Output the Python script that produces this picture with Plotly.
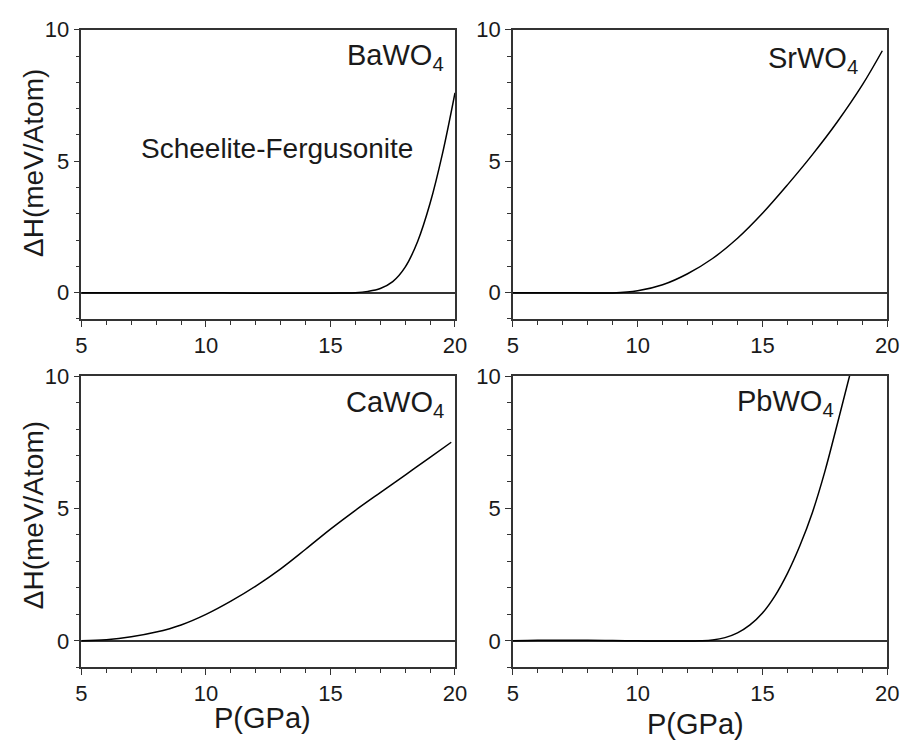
import plotly.graph_objects as go

# ---- data ----
ba_p = [5, 6, 7, 8, 9, 10, 11, 12, 13, 14, 15, 15.5, 16, 16.5, 17, 17.5, 18, 18.5, 19, 19.5, 20]
ba_h = [0, 0, 0, 0, 0, 0, -0.01, -0.02, -0.02, -0.02, -0.02, -0.01, 0.0, 0.05, 0.16, 0.42, 0.97, 1.95, 3.4, 5.3, 7.6]

sr_p = [5, 6, 7, 8, 9, 10, 11, 12, 13, 14, 15, 16, 17, 18, 19, 19.8]
sr_h = [0, 0, 0, -0.01, -0.01, 0.07, 0.3, 0.72, 1.3, 2.07, 3.02, 4.1, 5.25, 6.5, 7.9, 9.2]

ca_p = [5, 6, 7, 8, 9, 10, 11, 12, 13, 14, 15, 16, 17, 18, 19, 19.85]
ca_h = [0, 0.04, 0.15, 0.33, 0.6, 1.0, 1.5, 2.07, 2.72, 3.46, 4.22, 4.93, 5.6, 6.26, 6.93, 7.5]

pb_p = [5, 6, 7, 8, 9, 10, 11, 12, 12.5, 13, 13.5, 14, 14.5, 15, 15.5, 16, 16.5, 17, 17.5, 18, 18.5]
pb_h = [0, 0.02, 0.02, 0.02, 0.01, 0, -0.01, -0.01, 0, 0.03, 0.12, 0.3, 0.6, 1.05, 1.7, 2.55, 3.6, 4.85, 6.4, 8.2, 10.05]

x_ticks = [5, 10, 15, 20]
y_ticks = [0, 5, 10]
x_range = [5, 20]
y_range = [-1, 10]

panels = [
    ("BaWO<sub>4</sub>", ba_p, ba_h, 19.65, 8.95),
    ("SrWO<sub>4</sub>", sr_p, sr_h, 18.9, 8.84),
    ("CaWO<sub>4</sub>", ca_p, ca_h, 19.65, 8.96),
    ("PbWO<sub>4</sub>", pb_p, pb_h, 17.95, 9.0),
]

W, H = 915, 747
xdoms = [[77 / W, 458 / W], [517 / W, 899 / W]]
ydoms = [[1 - 312 / H, 1 - 18 / H], [1 - 666 / H, 1 - 370 / H]]

FONT = "Liberation Sans, Arial, Helvetica, sans-serif"
LINEC = "#333333"
TXT = "#1a1a1a"

fig = go.Figure()
layout = dict(
    width=W, height=H,
    margin=dict(l=0, r=0, t=0, b=0),
    paper_bgcolor="white", plot_bgcolor="white",
    showlegend=False,
    font=dict(family=FONT, color=TXT),
)
annotations = []

for i, (name, px, ph, ax_, ay_) in enumerate(panels):
    row, col = divmod(i, 2)
    k = i + 1
    xa = "xaxis" if k == 1 else f"xaxis{k}"
    ya = "yaxis" if k == 1 else f"yaxis{k}"
    xr = "x" if k == 1 else f"x{k}"
    yr = "y" if k == 1 else f"y{k}"
    fig.add_trace(go.Scatter(x=px, y=ph, mode="lines", xaxis=xr, yaxis=yr,
                             line=dict(color="black", width=1.5, shape="spline", smoothing=1.0),
                             hoverinfo="skip"))
    layout[xa] = dict(
        domain=xdoms[col], anchor=yr, range=x_range,
        tickvals=x_ticks, ticktext=[str(v) for v in x_ticks],
        ticks="outside", ticklen=6, tickwidth=1.2, tickcolor=LINEC,
        minor=dict(dtick=1, tick0=5, ticks="outside", ticklen=4, tickwidth=1.2, tickcolor=LINEC),
        showline=True, mirror=True, linecolor=LINEC, linewidth=1.5,
        showgrid=False, zeroline=False,
        tickfont=dict(size=22, family=FONT, color=TXT),
    )
    layout[ya] = dict(
        domain=ydoms[row], anchor=xr, range=y_range,
        tickvals=y_ticks, ticktext=[str(v) for v in y_ticks],
        ticks="outside", ticklen=6, tickwidth=1.2, tickcolor=LINEC,
        minor=dict(dtick=1, tick0=0, ticks="outside", ticklen=4, tickwidth=1.2, tickcolor=LINEC),
        showline=True, mirror=True, linecolor=LINEC, linewidth=1.5,
        showgrid=False, zeroline=True, zerolinecolor=LINEC, zerolinewidth=1.5,
        tickfont=dict(size=22, family=FONT, color=TXT),
    )
    annotations.append(dict(text=name, x=ax_, y=ay_, xref=xr, yref=yr,
                            xanchor="right", yanchor="middle", showarrow=False,
                            font=dict(size=29, family=FONT, color=TXT)))

annotations.append(dict(text="Scheelite-Fergusonite", x=12.87, y=5.5, xref="x", yref="y",
                        xanchor="center", yanchor="middle", showarrow=False,
                        font=dict(size=28, family=FONT, color=TXT)))

for yc in (153, 511):
    annotations.append(dict(text="ΔH(meV/Atom)", x=28 / W, y=1 - yc / H, xref="paper", yref="paper",
                            xanchor="center", yanchor="middle", textangle=-90, showarrow=False,
                            font=dict(size=28, family=FONT, color=TXT)))
for xc, yc in ((262, 718), (703, 724)):
    annotations.append(dict(text="P(GPa)", x=xc / W, y=1 - yc / H, xref="paper", yref="paper",
                            xanchor="center", yanchor="middle", showarrow=False,
                            font=dict(size=29, family=FONT, color=TXT)))

layout["annotations"] = annotations
fig.update_layout(**layout)
fig.write_html("out.html")
